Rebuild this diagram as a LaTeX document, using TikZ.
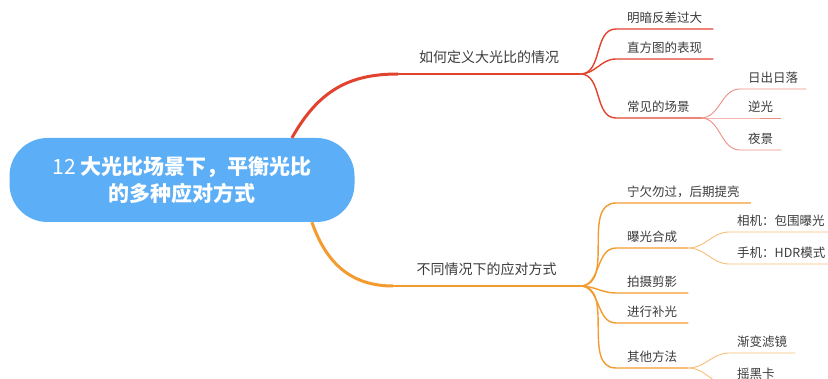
\documentclass[tikz,border=0pt]{standalone}
\usepackage{fontspec}
\setmainfont{Noto Sans CJK SC}
\usepackage{tikz}
\usetikzlibrary{positioning,calc}
\definecolor{mapred}{HTML}{E2432F}
\definecolor{maporange}{HTML}{F39B2F}
\definecolor{mapblue}{HTML}{5CAEF6}
\definecolor{maptext}{HTML}{3B3B3B}

\begin{document}
\begin{tikzpicture}[x=1pt, y=-1pt,
    rootbox/.style={rectangle, rounded corners=38pt, fill=mapblue, text=white, minimum width=345pt, minimum height=84pt, align=center, font=\bfseries\fontsize{21}{27}\selectfont},
    branch/.style={anchor=south west, inner xsep=0pt, inner ysep=8.7pt, minimum width=182pt, text height=11pt, text depth=3pt, text=maptext, font=\fontsize{14}{16}\selectfont},
    topic/.style={anchor=south west, inner xsep=11pt, inner ysep=3.75pt, text height=10pt, text depth=2.5pt, text=maptext, font=\fontsize{12.5}{14}\selectfont},
    leaf/.style={topic, inner xsep=8pt},
    redmain/.style={draw=mapred, line width=2pt},
    redtopic/.style={draw=mapred, line width=1.4pt},
    redleaf/.style={draw=mapred!60, line width=0.9pt},
    orgmain/.style={draw=maporange, line width=2pt},
    orgtopic/.style={draw=maporange, line width=1.4pt},
    orgleaf/.style={draw=maporange!65, line width=0.9pt}]

    \useasboundingbox (0,0) rectangle (828,379);

    \node[rootbox] (root) at (182,180) {{\mdseries 12} 大光比场景下，平衡光比\\的多种应对方式};

    \node[branch] (define) at (398,74) {如何定义大光比的情况};
    \node[topic] (contrast) at (616,29) {明暗反差过大};
    \node[topic] (histo) at (616,59) {直方图的表现};
    \node[topic] (scene) at (616,118) {常见的场景};
    \node[leaf] (sunset) at (740,89) {日出日落};
    \node[leaf] (backlit) at (740,118) {逆光};
    \node[leaf] (night) at (740,150) {夜景};

    \node[branch, minimum width=187pt] (cope) at (393,286) {不同情况下的应对方式};
    \node[topic] (under) at (616,203) {宁欠勿过，后期提亮};
    \node[topic] (merge) at (616,248) {曝光合成};
    \node[leaf] (camera) at (729,232) {相机：包围曝光};
    \node[leaf] (phone) at (729,264) {手机：HDR模式};
    \node[topic] (silhouette) at (616,293) {拍摄剪影};
    \node[topic] (flash) at (616,323) {进行补光};
    \node[topic] (others) at (616,368) {其他方法};
    \node[leaf] (gradfilter) at (729,353) {渐变滤镜};
    \node[leaf] (card) at (729,385) {摇黑卡};

    \draw[redmain, line width=3pt] (root.21) .. controls +(27,-48) and +(-48,0) .. (define.south west);
    \draw[redmain] (define.south west) -- (define.south east);
    \foreach \c in {contrast,histo,scene}
        \draw[redtopic] (define.south east) to[out=0,in=180] (\c.south west) -- (\c.south east);
    \foreach \c in {sunset,backlit,night}
        \draw[redleaf] (scene.south east) to[out=0,in=180] (\c.south west) -- (\c.south east);

    \draw[orgmain, line width=3pt] (root.-18) .. controls +(14,40) and +(-43,0) .. (cope.south west);
    \draw[orgmain] (cope.south west) -- (cope.south east);
    \foreach \c in {under,merge,silhouette,flash,others}
        \draw[orgtopic] (cope.south east) to[out=0,in=180] (\c.south west) -- (\c.south east);
    \foreach \c in {camera,phone}
        \draw[orgleaf] (merge.south east) to[out=0,in=180] (\c.south west) -- (\c.south east);
    \foreach \c in {gradfilter,card}
        \draw[orgleaf] (others.south east) to[out=0,in=180] (\c.south west) -- (\c.south east);
\end{tikzpicture}
\end{document}
